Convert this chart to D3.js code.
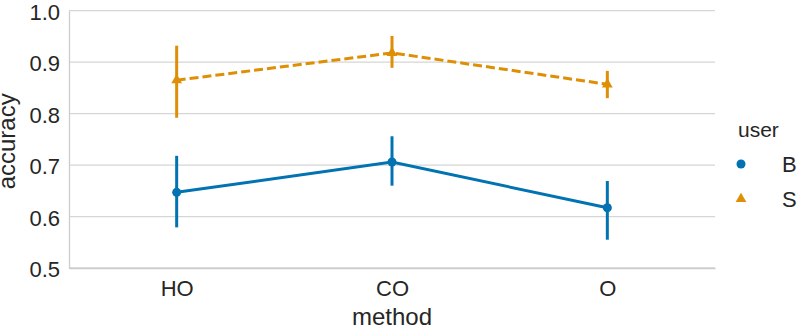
<!DOCTYPE html>
<html>
<head>
<meta charset="utf-8">
<script src="https://cdn.jsdelivr.net/npm/d3@7"></script>
<style>
  body { margin: 0; background: #ffffff; }
  svg { display: block; font-family: "Liberation Sans", Arial, sans-serif; }
</style>
</head>
<body>
<svg id="plot" width="800" height="327"></svg>
<script>
// data
const methods = ["HO", "CO", "O"];
const users = ["B", "S"];
const meanB = [0.647, 0.706, 0.617];
const lowB = [0.579, 0.660, 0.555];
const highB = [0.718, 0.756, 0.669];
const meanS = [0.865, 0.918, 0.857];
const lowS = [0.792, 0.889, 0.830];
const highS = [0.932, 0.951, 0.883];
const yTicks = [0.5, 0.6, 0.7, 0.8, 0.9, 1.0];

const colors = { B: "#0173b2", S: "#de8f05" };

const svg = d3.select("#plot");
const margin = { top: 10.7, right: 85, bottom: 59, left: 69 };
const width = 800 - margin.left - margin.right;
const height = 327 - margin.top - margin.bottom;

const x = d3.scalePoint().domain(methods).range([0, width]).padding(0.5);
const y = d3.scaleLinear().domain([0.5, 1.0]).range([height, 0]);

const g = svg.append("g")
    .attr("transform", `translate(${margin.left}, ${margin.top})`);

// grid
g.selectAll(".grid")
    .data(yTicks)
    .enter()
    .append("line")
    .attr("x1", 0)
    .attr("x2", width)
    .attr("y1", (d) => y(d))
    .attr("y2", (d) => y(d))
    .attr("stroke", "#d6d6d6")
    .attr("stroke-width", 1.3);

// axes
const yAxis = g.append("g")
    .call(d3.axisLeft(y).tickValues(yTicks).tickFormat(d3.format(".1f")).tickSize(0).tickPadding(9));
const xAxis = g.append("g")
    .attr("transform", `translate(0, ${height})`)
    .call(d3.axisBottom(x).tickSize(0).tickPadding(12));

[xAxis, yAxis].forEach((ax) => {
    ax.select(".domain").attr("stroke", "#cccccc").attr("stroke-width", 1.3);
    ax.selectAll("text").attr("font-size", 22).attr("fill", "#262626")
        .attr("font-family", "Liberation Sans, Arial, sans-serif");
});
yAxis.selectAll("text").attr("dy", "0.4em");
xAxis.selectAll("text").attr("dy", "0.72em");

// axis labels
svg.append("text")
    .attr("transform", `translate(15, ${margin.top + height / 2 + 2}) rotate(-90)`)
    .attr("text-anchor", "middle")
    .attr("font-size", 24)
    .attr("fill", "#262626")
    .text("accuracy");

svg.append("text")
    .attr("x", margin.left + width / 2)
    .attr("y", 325)
    .attr("text-anchor", "middle")
    .attr("font-size", 24)
    .attr("fill", "#262626")
    .text("method");

// series
const series = [
    { user: "B", mean: meanB, low: lowB, high: highB, dash: null },
    { user: "S", mean: meanS, low: lowS, high: highS, dash: "9,4" },
];

const line = d3.line()
    .x((d) => x(d.method))
    .y((d) => y(d.value));

series.forEach((s) => {
    const pts = methods.map((m, i) => ({ method: m, value: s.mean[i], lo: s.low[i], hi: s.high[i] }));
    const c = colors[s.user];

    g.selectAll(".err" + s.user)
        .data(pts)
        .enter()
        .append("line")
        .attr("x1", (d) => x(d.method))
        .attr("x2", (d) => x(d.method))
        .attr("y1", (d) => y(d.lo))
        .attr("y2", (d) => y(d.hi))
        .attr("stroke", c)
        .attr("stroke-width", 3);

    g.append("path")
        .datum(pts)
        .attr("fill", "none")
        .attr("stroke", c)
        .attr("stroke-width", 3)
        .attr("stroke-dasharray", s.dash)
        .attr("d", line);

    const sym = s.user === "B" ? d3.symbolCircle : d3.symbolTriangle;
    const size = s.user === "B" ? 64 : 50;
    g.selectAll(".pt" + s.user)
        .data(pts)
        .enter()
        .append("path")
        .attr("d", d3.symbol().type(sym).size(size))
        .attr("transform", (d) => `translate(${x(d.method)}, ${y(d.value)})`)
        .attr("fill", c);
});

// legend
const legend = svg.append("g");
legend.append("text")
    .attr("x", 738)
    .attr("y", 137)
    .attr("font-size", 21)
    .attr("fill", "#262626")
    .text("user");

users.forEach((u, i) => {
    const cy = 164 + i * 35;
    legend.append("path")
        .attr("d", d3.symbol().type(u === "B" ? d3.symbolCircle : d3.symbolTriangle).size(u === "B" ? 64 : 50))
        .attr("transform", `translate(741, ${cy})`)
        .attr("fill", colors[u]);
    legend.append("text")
        .attr("x", 782)
        .attr("y", cy + 7.5)
        .attr("font-size", 22)
        .attr("fill", "#262626")
        .text(u);
});
</script>
</body>
</html>
